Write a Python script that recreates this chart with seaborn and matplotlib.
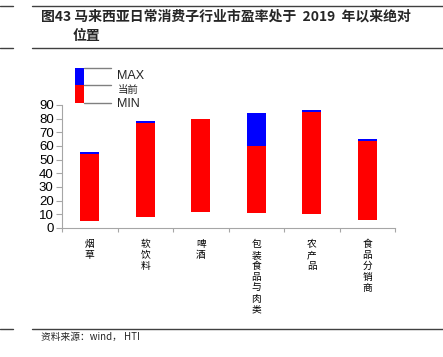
import matplotlib
matplotlib.use("Agg")
import matplotlib.pyplot as plt
import seaborn as sns
import pandas as pd
from matplotlib.patches import Rectangle
from matplotlib.lines import Line2D

categories = ["烟草", "软饮料", "啤酒", "包装食品与肉类", "农产品", "食品分销商"]
min_vals = [5, 8, 12, 11, 10.5, 6]
cur_vals = [54, 77, 79.5, 60, 85, 63.5]
max_vals = [55.5, 78.5, 79.5, 84, 86.3, 65]
yticks = [0, 10, 20, 30, 40, 50, 60, 70, 80, 90]

df = pd.DataFrame({"cat": categories, "min": min_vals, "cur": cur_vals, "max": max_vals})

sns.set_theme(style="white")
plt.rcParams["font.family"] = ["Liberation Sans", "Noto Sans CJK SC", "DejaVu Sans"]

fig = plt.figure(figsize=(4.43, 3.57), dpi=100)
W, H = 443, 357
ax = fig.add_axes([62 / W, 1 - 228 / H, (395 - 62) / W, (228 - 105) / H])

bw = 0.34
sns.barplot(data=df, x="cat", y="max", color="#0000FF", saturation=1, width=bw, ax=ax, linewidth=0)
sns.barplot(data=df, x="cat", y="cur", color="#FF0000", saturation=1, width=bw, ax=ax, linewidth=0)
sns.barplot(data=df, x="cat", y="min", color="#FFFFFF", saturation=1, width=bw, ax=ax, linewidth=0)

ax.set_ylim(0, 90)
ax.set_xlim(-0.5, len(categories) - 0.5)
ax.set_yticks(yticks)
ax.set_yticklabels([str(v) for v in yticks], fontsize=9.5, color="#000000")
ax.set_xlabel("")
ax.set_ylabel("")
ax.set_xticks([i - 0.5 for i in range(len(categories) + 1)], minor=False)
ax.set_xticklabels([""] * (len(categories) + 1))
for i, c in enumerate(categories):
    ax.text(i, -8, "\n".join(c), ha="center", va="top", fontsize=7,
            family=["Noto Sans CJK SC"], linespacing=1.12, color="#000000")

for s in ["top", "right"]:
    ax.spines[s].set_visible(False)
for s in ["left", "bottom"]:
    ax.spines[s].set_color("#A6A6A6")
    ax.spines[s].set_linewidth(0.8)
ax.tick_params(axis="y", direction="out", length=4, width=0.8, color="#A6A6A6", pad=2, left=True)
ax.tick_params(axis="x", direction="out", length=3, width=0.8, color="#A6A6A6", bottom=True)

# Legend drawn manually
fig.patches.append(Rectangle((75 / W, 1 - 85 / H), 9 / W, 17 / H, transform=fig.transFigure,
                             facecolor="#0000FF", edgecolor="none"))
fig.patches.append(Rectangle((75 / W, 1 - 103 / H), 9 / W, 18 / H, transform=fig.transFigure,
                             facecolor="#FF0000", edgecolor="none"))
for yy in [68, 85, 103]:
    fig.lines.append(Line2D([84 / W, 111 / W], [1 - yy / H, 1 - yy / H], transform=fig.transFigure,
                            color="#808080", linewidth=1))
fig.text(117 / W, 1 - 76 / H, "MAX", fontsize=9, va="center", ha="left")
fig.text(118 / W, 1 - 90 / H, "当前", fontsize=7.5, va="center", ha="left", family=["Noto Sans CJK SC"])
fig.text(117 / W, 1 - 104 / H, "MIN", fontsize=9, va="center", ha="left")

# Title and frame lines
for yy in [6, 48, 329]:
    fig.lines.append(Line2D([32 / W, 1], [1 - yy / H, 1 - yy / H], transform=fig.transFigure,
                            color="#404040", linewidth=1))
    fig.lines.append(Line2D([0, 13 / W], [1 - yy / H, 1 - yy / H], transform=fig.transFigure,
                            color="#404040", linewidth=1))
fig.text(41 / W, 1 - 17 / H, "图43 马来西亚日常消费子行业市盈率处于  2019  年以来绝对",
         fontsize=10, fontweight="bold", va="center", ha="left",
         family=["Noto Sans CJK SC", "DejaVu Sans"])
fig.text(73 / W, 1 - 36 / H, "位置", fontsize=10, fontweight="bold", va="center", ha="left",
         family=["Noto Sans CJK SC"])
fig.text(41 / W, 1 - 337 / H, "资料来源：wind， HTI", fontsize=7, va="center", ha="left",
         family=["Noto Sans CJK SC", "DejaVu Sans"])

fig.savefig("out.png", dpi=100)
